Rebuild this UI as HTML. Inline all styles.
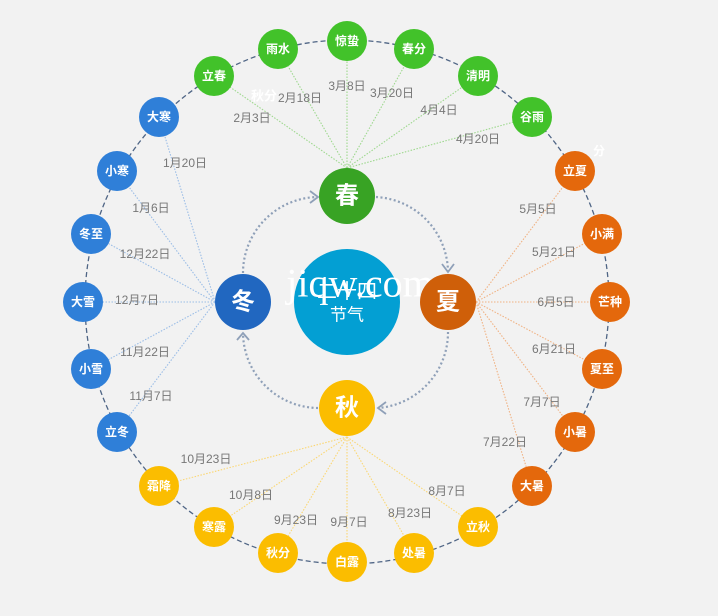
<!DOCTYPE html>
<html><head><meta charset="utf-8"><style>
body{margin:0;background:#f2f2f2;}
svg{display:block;font-family:"Liberation Sans","Noto Sans CJK SC",sans-serif;}
.n{fill:#fff;font-size:12px;font-weight:bold;text-anchor:middle;dominant-baseline:central;}
.d{fill:#777;font-size:12px;text-anchor:middle;dominant-baseline:central;}
</style></head><body>
<svg width="718" height="616" viewBox="0 0 718 616">
<rect width="718" height="616" fill="#f2f2f2"/>
<circle cx="347" cy="302" r="262" fill="none" stroke="#4f6585" stroke-width="1.3" stroke-dasharray="5,3"/>
<g stroke-width="1.1" stroke-dasharray="1.5,1.5" fill="none">
<g stroke="#9ed88e">
<line x1="347" y1="168" x2="214" y2="76"/><line x1="347" y1="168" x2="278" y2="49"/><line x1="347" y1="168" x2="347" y2="41"/><line x1="347" y1="168" x2="414" y2="49"/><line x1="347" y1="168" x2="478" y2="76"/><line x1="347" y1="168" x2="532" y2="117"/></g>
<g stroke="#f0b283">
<line x1="476" y1="302" x2="575" y2="171"/><line x1="476" y1="302" x2="602" y2="234"/><line x1="476" y1="302" x2="610" y2="302"/><line x1="476" y1="302" x2="602" y2="369"/><line x1="476" y1="302" x2="575" y2="432"/><line x1="476" y1="302" x2="532" y2="486"/></g>
<g stroke="#fbd774">
<line x1="347" y1="437" x2="478" y2="527"/><line x1="347" y1="437" x2="414" y2="553"/><line x1="347" y1="437" x2="347" y2="562"/><line x1="347" y1="437" x2="278" y2="553"/><line x1="347" y1="437" x2="214" y2="527"/><line x1="347" y1="437" x2="159" y2="486"/></g>
<g stroke="#9bbde6">
<line x1="215" y1="302" x2="117" y2="432"/><line x1="215" y1="302" x2="91" y2="369"/><line x1="215" y1="302" x2="83" y2="302"/><line x1="215" y1="302" x2="91" y2="234"/><line x1="215" y1="302" x2="117" y2="171"/><line x1="215" y1="302" x2="159" y2="117"/></g>
</g>
<g stroke="#8fa0b8" stroke-width="2.2" stroke-dasharray="2,2.5" fill="none">
<path d="M376 197 A76 76 0 0 1 448 272"/>
<path d="M448 332 A76 76 0 0 1 378 408"/>
<path d="M318 408 A76 76 0 0 1 243 333"/>
<path d="M243 273 A76 76 0 0 1 318 197"/>
</g>
<g stroke="#8fa0b8" stroke-width="1.8" fill="none">
<path d="M442 264 L448 272 L454 264"/>
<path d="M386 402 L378 408 L386 414"/>
<path d="M237 340 L243 333 L249 340"/>
<path d="M310 191 L318 197 L310 203"/>
</g>
<circle cx="347" cy="302" r="53" fill="#039fd3"/>
<text x="347" y="292" class="n" style="font-size:20px;font-weight:normal">二十四</text>
<text x="347" y="315" class="n" style="font-size:17px;font-weight:normal">节气</text>
<text x="360" y="283" style="fill:#fff;font-family:'Liberation Serif',serif;font-size:40px;text-anchor:middle;dominant-baseline:central">jiqw.com</text>
<circle cx="347" cy="196" r="28" fill="#38a324"/><text x="347" y="196" class="n" style="font-size:24px">春</text>
<circle cx="448" cy="302" r="28" fill="#cf5f09"/><text x="448" y="302" class="n" style="font-size:24px">夏</text>
<circle cx="347" cy="408" r="28" fill="#fbbd00"/><text x="347" y="408" class="n" style="font-size:24px">秋</text>
<circle cx="243" cy="302" r="28" fill="#2167c0"/><text x="243" y="302" class="n" style="font-size:24px">冬</text>
<g fill="#42c22a">
<circle cx="214" cy="76" r="20"/><circle cx="278" cy="49" r="20"/><circle cx="347" cy="41" r="20"/><circle cx="414" cy="49" r="20"/><circle cx="478" cy="76" r="20"/><circle cx="532" cy="117" r="20"/></g>
<g fill="#e4680c">
<circle cx="575" cy="171" r="20"/><circle cx="602" cy="234" r="20"/><circle cx="610" cy="302" r="20"/><circle cx="602" cy="369" r="20"/><circle cx="575" cy="432" r="20"/><circle cx="532" cy="486" r="20"/></g>
<g fill="#fbbd00">
<circle cx="478" cy="527" r="20"/><circle cx="414" cy="553" r="20"/><circle cx="347" cy="562" r="20"/><circle cx="278" cy="553" r="20"/><circle cx="214" cy="527" r="20"/><circle cx="159" cy="486" r="20"/></g>
<g fill="#2f7fd8">
<circle cx="117" cy="432" r="20"/><circle cx="91" cy="369" r="20"/><circle cx="83" cy="302" r="20"/><circle cx="91" cy="234" r="20"/><circle cx="117" cy="171" r="20"/><circle cx="159" cy="117" r="20"/></g>
<text class="n" x="214" y="76">立春</text><text class="n" x="278" y="49">雨水</text><text class="n" x="347" y="41">惊蛰</text><text class="n" x="414" y="49">春分</text><text class="n" x="478" y="76">清明</text><text class="n" x="532" y="117">谷雨</text>
<text class="n" x="575" y="171">立夏</text><text class="n" x="602" y="234">小满</text><text class="n" x="610" y="302">芒种</text><text class="n" x="602" y="369">夏至</text><text class="n" x="575" y="432">小暑</text><text class="n" x="532" y="486">大暑</text>
<text class="n" x="478" y="527">立秋</text><text class="n" x="414" y="553">处暑</text><text class="n" x="347" y="562">白露</text><text class="n" x="278" y="553">秋分</text><text class="n" x="214" y="527">寒露</text><text class="n" x="159" y="486">霜降</text>
<text class="n" x="117" y="432">立冬</text><text class="n" x="91" y="369">小雪</text><text class="n" x="83" y="302">大雪</text><text class="n" x="91" y="234">冬至</text><text class="n" x="117" y="171">小寒</text><text class="n" x="159" y="117">大寒</text>
<text class="d" x="252" y="118">2月3日</text><text class="d" x="300" y="98">2月18日</text><text class="d" x="347" y="86">3月8日</text><text class="d" x="392" y="93">3月20日</text><text class="d" x="439" y="110">4月4日</text><text class="d" x="478" y="139">4月20日</text>
<text class="d" x="538" y="209">5月5日</text><text class="d" x="554" y="252">5月21日</text><text class="d" x="556" y="302">6月5日</text><text class="d" x="554" y="349">6月21日</text><text class="d" x="542" y="402">7月7日</text><text class="d" x="505" y="442">7月22日</text>
<text class="d" x="447" y="491">8月7日</text><text class="d" x="410" y="513">8月23日</text><text class="d" x="349" y="522">9月7日</text><text class="d" x="296" y="520">9月23日</text><text class="d" x="251" y="495">10月8日</text><text class="d" x="206" y="459">10月23日</text>
<text class="d" x="151" y="396">11月7日</text><text class="d" x="145" y="352">11月22日</text><text class="d" x="137" y="300">12月7日</text><text class="d" x="145" y="254">12月22日</text><text class="d" x="151" y="208">1月6日</text><text class="d" x="185" y="163">1月20日</text>
<text class="n" x="264" y="96" style="font-size:13px">秋分</text>
<text class="n" x="599" y="151" style="font-size:12px">分</text>
</svg>
</body></html>
